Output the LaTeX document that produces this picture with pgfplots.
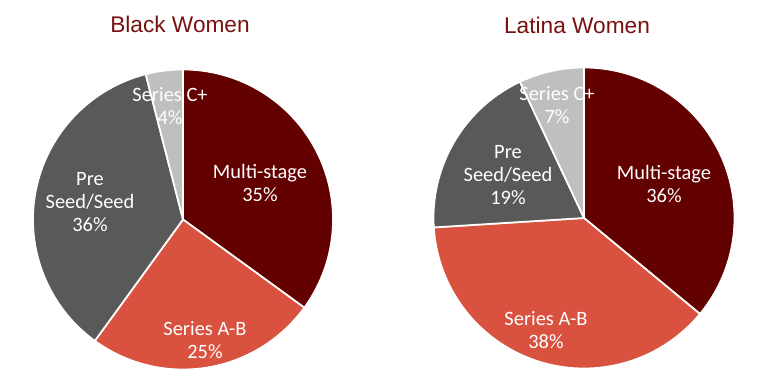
\documentclass[border=0pt]{standalone}
\usepackage{pgfplots}
\pgfplotsset{compat=1.18}
\usepackage{fontspec}
\setmainfont{Carlito}
\newfontfamily\titlefont{Liberation Sans}
\definecolor{cMulti}{RGB}{99,0,0}
\definecolor{cAB}{RGB}{217,82,64}
\definecolor{cPre}{RGB}{89,89,89}
\definecolor{cC}{RGB}{191,191,191}
\definecolor{cTitle}{RGB}{122,16,16}
\tikzset{lbl/.style={font=\fontsize{15.3}{17.3}\selectfont, text=white, align=center, inner sep=0pt},
  ttl/.style={font=\titlefont\fontsize{17}{20}\selectfont, text=cTitle, inner sep=0pt}}
% #1 cx, #2 cy, #3 radius, #4 start angle, #5 share (%), #6 colour
\newcommand{\slice}[6]{%
  \pgfmathsetmacro\sa{#4}%
  \pgfmathsetmacro\sb{#4-3.6*#5}%
  \addplot[fill=#6, draw=white, line width=1.3pt, line join=round, domain=\sb:\sa, samples=80, variable=\t]
    ({#1+#3*cos(\t)},{#2+#3*sin(\t)}) -- (#1,#2) -- cycle;
}
\begin{document}
\begin{tikzpicture}
\begin{axis}[x=0.75pt,y=0.75pt,xmin=0,xmax=759,ymin=0,ymax=385,hide axis,clip=false]
\path (0,0) rectangle (759,385);
% Black Women: Multi-stage 35, Series A-B 25, Pre Seed/Seed 36, Series C+ 4
\slice{183}{165.5}{150}{90}{35}{cMulti}
\slice{183}{165.5}{150}{-36}{25}{cAB}
\slice{183}{165.5}{150}{-126}{36}{cPre}
\slice{183}{165.5}{150}{-255.6}{4}{cC}
% Latina Women: Multi-stage 36, Series A-B 38, Pre Seed/Seed 19, Series C+ 7
\slice{584}{167}{150.5}{90}{36}{cMulti}
\slice{584}{167}{150.5}{-39.6}{38}{cAB}
\slice{584}{167}{150.5}{-176.4}{19}{cPre}
\slice{584}{167}{150.5}{-244.8}{7}{cC}
\node[ttl] at (180,361) {Black Women};
\node[ttl] at (577,360) {Latina Women};
\node[lbl] at (170,279) {Series C+\\4\%};
\node[lbl] at (260,202) {Multi-stage\\35\%};
\node[lbl] at (90,183) {Pre\\Seed/Seed\\36\%};
\node[lbl] at (205,45) {Series A-B\\25\%};
\node[lbl] at (557,280) {Series C+\\7\%};
\node[lbl] at (664,201) {Multi-stage\\36\%};
\node[lbl] at (508,210) {Pre\\Seed/Seed\\19\%};
\node[lbl] at (546,55) {Series A-B\\38\%};
\end{axis}
\end{tikzpicture}
\end{document}
